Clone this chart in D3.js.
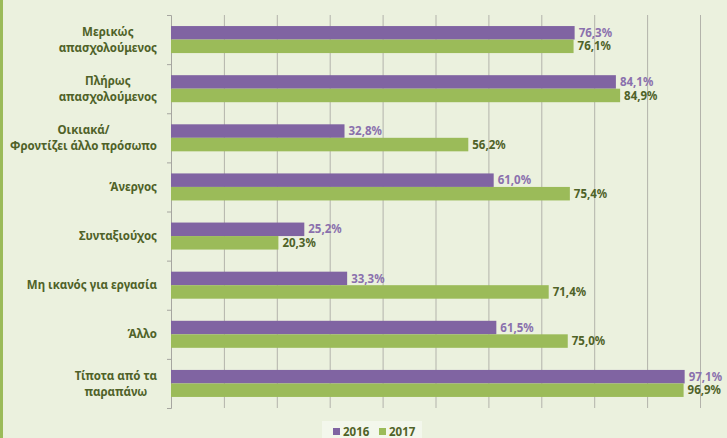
<!DOCTYPE html>
<html><head><meta charset="utf-8">
<script src="https://cdn.jsdelivr.net/npm/d3@7"></script>
<style>html,body{margin:0;padding:0;background:#ebf1de;}svg{display:block;}</style>
</head><body>
<svg id="c" width="727" height="438"></svg>
<script>
const categories = [
  ["Μερικώς","απασχολούμενος"],
  ["Πλήρως","απασχολούμενος"],
  ["Οικιακά/","Φροντίζει άλλο πρόσωπο"],
  ["Άνεργος"],
  ["Συνταξιούχος"],
  ["Μη ικανός για εργασία"],
  ["Άλλο"],
  ["Τίποτα από τα","παραπάνω"]
];
const seriesNames = ["2016","2017"];
const values2016 = [76.3, 84.1, 32.8, 61.0, 25.2, 33.3, 61.5, 97.1];
const values2017 = [76.1, 84.9, 56.2, 75.4, 20.3, 71.4, 75.0, 96.9];
const xTicks = [0,10,20,30,40,50,60,70,80,90,100];
const colors = ["#8064a2","#9bbb59"];
const labelColors = ["#8a70ad","#4f6228"];

(function(){
const svg = d3.select("#c");
const W=727,H=438;
svg.append("rect").attr("width",W).attr("height",H).attr("fill","#ebf1de");
svg.append("rect").attr("x",0).attr("y",0).attr("width",3).attr("height",H).attr("fill","#9bbb59");

const mLeft=171, mRight=700, mTop=15, mBottom=408;
const x = d3.scaleLinear().domain([0,100]).range([mLeft,mRight]);
const y = d3.scaleBand().domain(d3.range(categories.length)).range([mTop,mBottom]).paddingInner(0.45).paddingOuter(0.225);
const y1 = d3.scaleBand().domain([0,1]).range([0,y.bandwidth()]);

const grid = d3.axisBottom(x).tickValues(xTicks).tickSize(-(mBottom-mTop)).tickFormat("");
svg.append("g").attr("transform",`translate(0,${mBottom})`).call(grid)
  .call(g=>g.select(".domain").remove())
  .call(g=>g.selectAll(".tick").filter(d=>d===0).remove())
  .call(g=>g.selectAll("line").attr("stroke","#b3b3ab").attr("stroke-width",1));

const yb = d3.scaleLinear().domain([0,categories.length]).range([mTop,mBottom]);
svg.append("g").attr("transform",`translate(${mLeft},0)`)
  .call(d3.axisLeft(yb).tickValues(d3.range(categories.length+1)).tickSize(4).tickFormat(""))
  .call(g=>g.selectAll("path,line").attr("stroke","#a6a6a0"));

const data = categories.map((c,i)=>({i, vals:[values2016[i], values2017[i]]}));
const grp = svg.append("g").selectAll("g").data(data).join("g")
  .attr("transform",d=>`translate(0,${y(d.i)})`);
grp.selectAll("rect").data(d=>d.vals.map((v,k)=>({v,k}))).join("rect")
  .attr("x",x(0)).attr("y",d=>y1(d.k)).attr("width",d=>x(d.v)-x(0)).attr("height",y1.bandwidth())
  .attr("fill",d=>colors[d.k]);
grp.selectAll("text").data(d=>d.vals.map((v,k)=>({v,k}))).join("text")
  .attr("x",d=>x(d.v)+4).attr("y",d=>y1(d.k)+y1.bandwidth()/2).attr("dy","0.36em")
  .attr("font-family","Noto Sans, sans-serif").attr("font-weight","bold").attr("font-size",11.5)
  .attr("fill",d=>labelColors[d.k])
  .text(d=>d.v.toFixed(1).replace(".",",")+"%");

const labelRight = 157;
const lab = svg.append("g").attr("font-family","Noto Sans, sans-serif").attr("font-weight","bold")
  .attr("font-size",11.5).attr("fill","#4f6228");
categories.forEach((lines,i)=>{
  const cy = y(i)+y.bandwidth()/2;
  const t = lab.append("text").attr("text-anchor","middle");
  const lh = 16;
  lines.forEach((s,j)=>{
    t.append("tspan").attr("y", cy + (j-(lines.length-1)/2)*lh).attr("dy","0.36em").text(s);
  });
  const w = d3.max(t.selectAll("tspan").nodes(), n=>n.getComputedTextLength());
  t.selectAll("tspan").attr("x", labelRight - w/2);
});

const lg = svg.append("g");
lg.append("rect").attr("x",322).attr("y",421).attr("width",100).attr("height",17).attr("fill","#f3f7ec");
const items=[{n:seriesNames[0],c:colors[0],x:333},{n:seriesNames[1],c:colors[1],x:379}];
items.forEach(it=>{
  lg.append("rect").attr("x",it.x).attr("y",428).attr("width",7).attr("height",7).attr("fill",it.c);
  lg.append("text").attr("x",it.x+10).attr("y",432).attr("dy","0.36em")
    .attr("font-family","Noto Sans, sans-serif").attr("font-weight","bold").attr("font-size",11.5)
    .attr("fill","#4f6228").text(it.n);
});
})();
</script>
</body></html>
